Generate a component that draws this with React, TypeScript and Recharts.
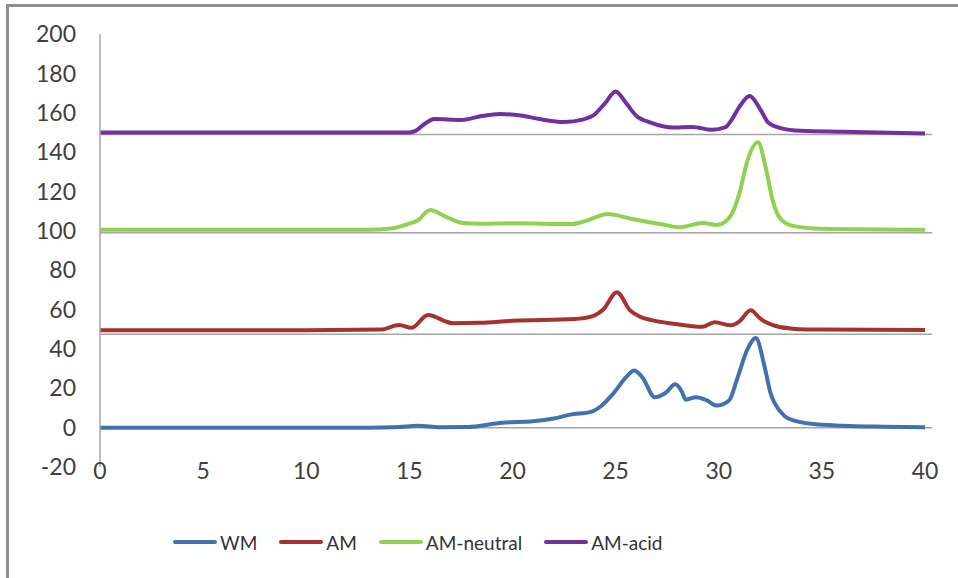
import { LineChart, Line, XAxis, YAxis, ReferenceLine, Legend } from 'recharts';

type Pt = [number, number];

// elution traces, each one stacked on its own baseline
const WM: Pt[] = [
  [0, 0], [13, 0], [14.5, 0.3], [15.4, 0.9], [16.5, 0.2], [17.8, 0.3], [19.5, 2.5],
  [21, 3.2], [22, 4.6], [22.8, 6.6], [23.8, 8], [24.3, 11], [24.9, 17.5], [25.5, 25.5],
  [25.9, 29], [26.3, 25.5], [26.9, 15.5], [27.4, 17.5], [27.9, 22], [28.2, 18.5],
  [28.4, 14.2], [28.9, 15.5], [29.4, 14], [29.9, 11.2], [30.5, 13.8], [30.9, 25],
  [31.4, 40], [31.8, 45.5], [32.2, 32], [32.5, 18], [33, 8], [33.4, 4.5], [34.6, 1.8],
  [36, 1], [38, 0.5], [40, 0.2],
];

const AM: Pt[] = [
  [0, 49.5], [10, 49.5], [13.6, 49.8], [14.5, 52.2], [15.1, 50.7], [15.9, 57.2],
  [17.1, 53.1], [18.4, 53.3], [20, 54.3], [23, 55.2], [23.9, 56.7], [24.4, 60],
  [25.06, 68.8], [25.7, 59.6], [26.2, 56.3], [26.8, 54.5], [27.8, 52.8], [29.2, 51.2],
  [29.8, 53.5], [30.6, 52], [31, 54], [31.55, 59.6], [32, 55.5], [32.3, 53.5],
  [32.8, 51.5], [33.6, 50.3], [35, 49.8], [40, 49.6],
];

const AM_NEUTRAL: Pt[] = [
  [0, 100.5], [13, 100.5], [14.1, 101.2], [15, 103.7], [15.4, 105.3], [16, 110.6],
  [16.8, 107], [17.6, 104], [18.5, 103.6], [20, 103.8], [22.9, 103.5], [23.6, 105.2],
  [24.6, 108.6], [25.8, 106], [27.3, 103.2], [28.1, 101.8], [29.2, 104], [29.9, 102.9],
  [30.3, 104.5], [30.7, 110], [31, 119], [31.4, 136], [31.9, 145], [32.3, 131],
  [32.6, 116], [33, 106], [33.6, 102.5], [35, 101], [40, 100.5],
];

const AM_ACID: Pt[] = [
  [0, 150], [15, 150], [15.3, 150.8], [15.8, 154.8], [16.2, 156.8], [17.5, 156.3],
  [18.5, 158.3], [19.4, 159.3], [20.4, 158.6], [21.3, 156.8], [22.5, 155.3],
  [23.4, 156.5], [23.9, 158.5], [24.5, 165], [25, 170.8], [25.5, 165], [26, 158.5],
  [26.7, 155], [27.8, 152.5], [28.7, 152.8], [29.7, 151.3], [30.3, 152.5], [30.6, 156],
  [31, 163], [31.5, 168.5], [32, 162], [32.4, 155], [33, 152.2], [34, 150.8],
  [36, 150.3], [40, 149.5],
];

const X_TICKS = [0, 5, 10, 15, 20, 25, 30, 35, 40];
const Y_TICKS = [-20, 0, 20, 40, 60, 80, 100, 120, 140, 160, 180, 200];
// gray separators under each trace (0 doubles as the x axis line)
const BASELINES = [0, 47.5, 99, 149];

const SERIES = [
  { name: 'WM', color: '#4271b0', points: WM },
  { name: 'AM', color: '#a5322f', points: AM },
  { name: 'AM-neutral', color: '#92d050', points: AM_NEUTRAL },
  { name: 'AM-acid', color: '#7030a0', points: AM_ACID },
];

const FONT = 'Lato, "Open Sans", sans-serif';
const TICK = { fontSize: 23, fill: '#404040', fontFamily: FONT };

function renderLegend() {
  return (
    <div
      style={{
        height: 70,
        display: 'flex',
        alignItems: 'center',
        paddingLeft: 173,
        fontFamily: FONT,
        fontSize: 19,
        color: '#333',
      }}
    >
      {SERIES.map(s => (
        <div key={s.name} style={{ display: 'flex', alignItems: 'center', marginRight: 22 }}>
          <span
            style={{
              display: 'inline-block',
              width: 44,
              height: 4,
              borderRadius: 2,
              background: s.color,
              marginRight: 3,
            }}
          />
          <span>{s.name}</span>
        </div>
      ))}
    </div>
  );
}

export default function App() {
  return (
    <div
      style={{
        position: 'absolute',
        left: 0,
        top: 0,
        width: 958,
        height: 578,
        overflow: 'hidden',
        background: '#fff',
      }}
    >
      <div
        style={{
          position: 'absolute',
          left: 6,
          top: 4,
          width: 1100,
          height: 800,
          border: '3px solid #8f8f8f',
        }}
      />
      <LineChart
        width={958}
        height={578}
        margin={{ top: 34, right: 33, left: 0, bottom: 1 }}
        style={{ position: 'absolute', left: 0, top: 0 }}
      >
        <XAxis
          type="number"
          dataKey="x"
          domain={[0, 40]}
          ticks={X_TICKS}
          axisLine={false}
          tickLine={false}
          tickSize={0}
          tickMargin={-4}
          height={40}
          tick={TICK}
          allowDuplicatedCategory={false}
        />
        <YAxis
          type="number"
          domain={[-20, 200]}
          ticks={Y_TICKS}
          width={100}
          axisLine={{ stroke: '#a6a6a6', strokeWidth: 1.5 }}
          tickLine={false}
          tickSize={0}
          tickMargin={24}
          tick={TICK}
        />
        {BASELINES.map(y => (
          <ReferenceLine
            key={y}
            segment={[{ x: 0, y }, { x: 40.35, y }]}
            ifOverflow="visible"
            stroke="#a6a6a6"
            strokeWidth={1.5}
          />
        ))}
        {SERIES.map(s => (
          <Line
            key={s.name}
            name={s.name}
            data={s.points.map(([x, y]) => ({ x, y }))}
            dataKey="y"
            type="monotone"
            stroke={s.color}
            strokeWidth={4}
            dot={false}
            activeDot={false}
            isAnimationActive={false}
          />
        ))}
        <Legend verticalAlign="bottom" height={70} content={renderLegend} wrapperStyle={{ left: 0 }} />
      </LineChart>
    </div>
  );
}
